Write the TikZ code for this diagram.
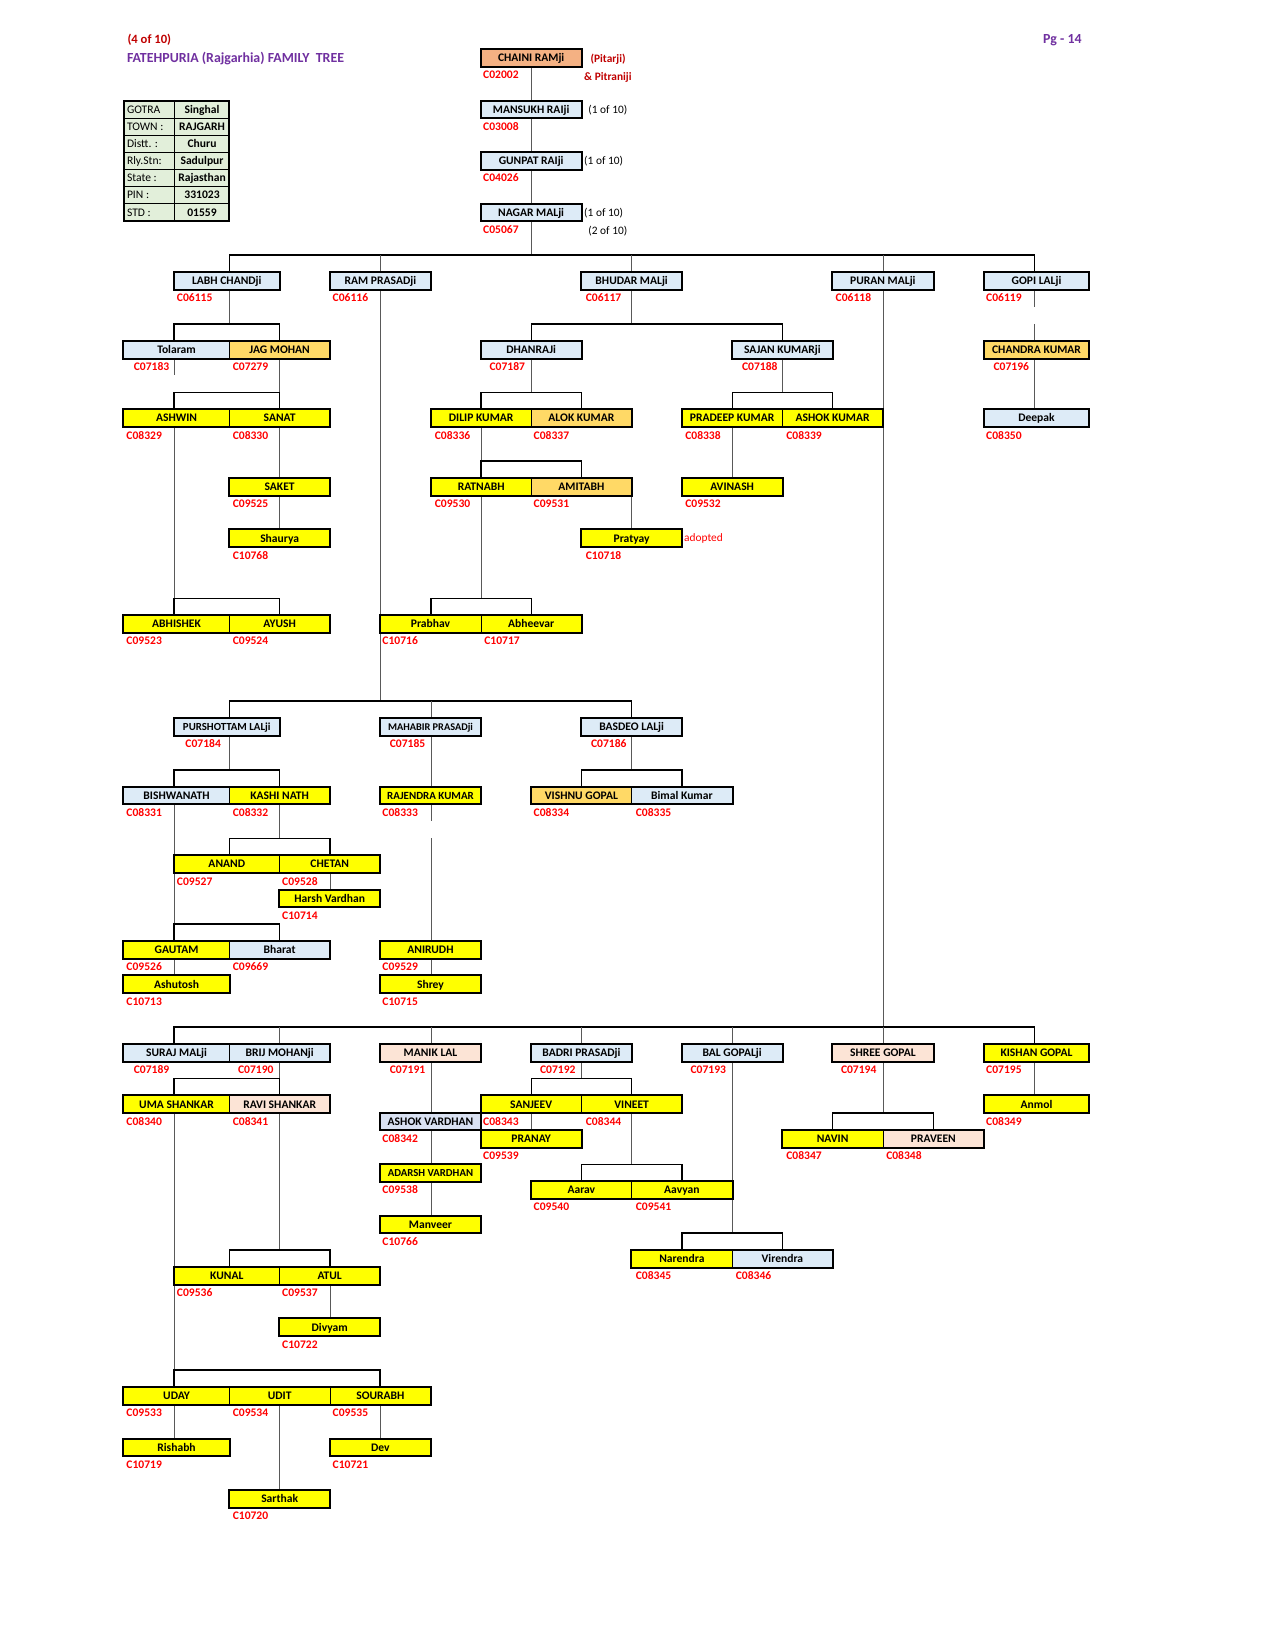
\documentclass[tikz,border=0pt]{standalone}
\usepackage{fontspec}
\setmainfont{Carlito}
\usetikzlibrary{calc}
\definecolor{cblue}{HTML}{DDEBF7}
\definecolor{cyel}{HTML}{FFFF00}
\definecolor{cgold}{HTML}{FFD966}
\definecolor{csalmon}{HTML}{F4B183}
\definecolor{cpeach}{HTML}{FCE4D6}
\definecolor{cav}{HTML}{D9E1F2}
\definecolor{cgreen}{HTML}{E2EFDA}
\definecolor{cred}{HTML}{FF0000}
\definecolor{cdred}{HTML}{C00000}
\definecolor{cpurple}{HTML}{7030A0}
\def\setcol#1#2{\expandafter\def\csname cx#1\endcsname{#2}}
\setcol{0}{117.5}\setcol{1}{165.5}\setcol{2}{218}\setcol{3}{265.5}\setcol{4}{313.5}
\setcol{5}{361.2}\setcol{6}{409.5}\setcol{7}{457}\setcol{8}{505}\setcol{9}{552.5}
\setcol{10}{600}\setcol{11}{648}\setcol{12}{696}\setcol{13}{743.5}\setcol{14}{791}
\setcol{15}{839}\setcol{16}{887}\setcol{17}{935}\setcol{18}{983}\setcol{19}{1035}
\tikzset{
  pers/.style={rectangle, draw=black, line width=0.6pt, inner sep=0pt,
    minimum height=16.3pt, text height=7.1pt, text depth=0pt,
    font=\bfseries\fontsize{11}{12}\selectfont},
  code/.style={inner sep=0pt, anchor=west, text=cred, text height=7.1pt, text depth=0pt,
    font=\bfseries\fontsize{11}{12}\selectfont},
  thn/.style={line width=0.7pt, draw=black!65},
  thk/.style={line width=1.6pt, draw=black},
  boxline/.style={line width=1.9pt, draw=black},
  note/.style={inner sep=0pt, anchor=west, text height=7pt, text depth=0pt,
    font=\fontsize{10.8}{12}\selectfont},
  redb/.style={note, text=cdred, font=\bfseries\fontsize{10.8}{12}\selectfont},
  redr/.style={note, text=cred},
  ttl/.style={note, text=cpurple, text height=8.4pt, font=\bfseries\fontsize{13.2}{15}\selectfont},
  hred/.style={note, text=cdred, text height=7.7pt, font=\bfseries\fontsize{12}{14}\selectfont},
  tlab/.style={note, font=\fontsize{11}{12}\selectfont},
  tval/.style={inner sep=0pt, text height=7.1pt, text depth=0pt, font=\bfseries\fontsize{11}{12}\selectfont},
}
\newcommand\pbox[9][]{%
  \edef\pbXL{\csname cx#3\endcsname}%
  \edef\pbXR{\csname cx#4\endcsname}%
  \pgfmathsetmacro\pbXC{(\pbXL+\pbXR)/2}%
  \pgfmathsetmacro\pbW{\pbXR-\pbXL}%
  \pgfmathsetmacro\pbYC{47+16.3*#5+8.15}%
  \pgfmathsetmacro\pbYD{47+16.3*#5+24.45}%
  \pgfmathsetmacro\pbXD{\pbXL+#9}%
  \node[pers, fill=#6, minimum width=\pbW pt, #1] (#2) at (\pbXC,\pbYC) {#7};
  \node[code] (#2-c) at (\pbXD,\pbYD) {#8};
}
\begin{document}
\begin{tikzpicture}[x=1pt,y=-1pt]
\useasboundingbox (0,0) rectangle (1212,1568);
\fill[white] (0,0) rectangle (1212,1568);
\foreach \i in {0,...,19} { \coordinate (c\i) at (\csname cx\i\endcsname,0); }
\foreach \k in {0,...,86} { \coordinate (r\k) at (0,{47+16.3*\k}); }

% header
\node[hred] (pg4) at (121,37.5) {(4 of 10)};
\node[ttl] (title) at (120.5,55.5) {FATEHPURIA (Rajgarhia) FAMILY\ \ TREE};
\node[ttl] (pg) at (991,37.5) {Pg - 14};

% info table
\fill[cgreen] (c0 |- r3) rectangle (c2 |- r10);
\foreach \k in {4,...,9} { \draw[line width=0.8pt] (c0 |- r\k) -- (c2 |- r\k); }
\draw[line width=0.8pt] (c1 |- r3) -- (c1 |- r10);
\draw[boxline] (c0 |- r3) rectangle (c2 |- r10);
\foreach \k/\l/\v [count=\i] in {3/GOTRA/Singhal, 4/TOWN :/RAJGARH, 5/Distt. :/Churu,
   6/Rly.Stn:/Sadulpur, 7/State :/Rajasthan, 8/PIN :/331023, 9/STD :/01559} {
  \node[tlab] (tl\i) at (120.5,{47+16.3*\k+8.15}) {\l};
  \node[tval] (tv\i) at (192,{47+16.3*\k+8.15}) {\v};
}

% persons
\pbox{chaini}{7}{9}{0}{csalmon}{CHAINI RAMji}{C02002}{2}
\pbox{mansukh}{7}{9}{3}{cblue}{MANSUKH RAIji}{C03008}{2}
\pbox{gunpat}{7}{9}{6}{cblue}{GUNPAT RAIji}{C04026}{2}
\pbox{nagar}{7}{9}{9}{cblue}{NAGAR MALji}{C05067}{2}

\pbox{labh}{1}{3}{13}{cblue}{LABH CHANDji}{C06115}{2.5}
\pbox{ram}{4}{6}{13}{cblue}{RAM PRASADji}{C06116}{2.5}
\pbox{bhudar}{9}{11}{13}{cblue}{BHUDAR MALji}{C06117}{4}
\pbox{puran}{14}{16}{13}{cblue}{PURAN MALji}{C06118}{3}
\pbox{gopi}{17}{19}{13}{cblue}{GOPI LALji}{C06119}{2}

\pbox{tolaram}{0}{2}{17}{cblue}{Tolaram}{C07183}{9.5}
\pbox{jag}{2}{4}{17}{cgold}{JAG MOHAN}{C07279}{3}
\pbox{dhanraj}{7}{9}{17}{cblue}{DHANRAJi}{C07187}{8}
\pbox{sajan}{12}{14}{17}{cblue}{SAJAN KUMARji}{C07188}{9}
\pbox{chandra}{17}{19}{17}{cgold}{CHANDRA KUMAR}{C07196}{9}

\pbox{ashwin}{0}{2}{21}{cyel}{ASHWIN}{C08329}{2.5}
\pbox{sanat}{2}{4}{21}{cyel}{SANAT}{C08330}{3}
\pbox{dilip}{6}{8}{21}{cyel}{DILIP KUMAR}{C08336}{3.5}
\pbox{alok}{8}{10}{21}{cgold}{ALOK KUMAR}{C08337}{2}
\pbox{pradeep}{11}{13}{21}{cyel}{PRADEEP KUMAR}{C08338}{3}
\pbox{ashokk}{13}{15}{21}{cyel}{ASHOK KUMAR}{C08339}{3.5}
\pbox{deepak}{17}{19}{21}{cblue}{Deepak}{C08350}{2}

\pbox{saket}{2}{4}{25}{cyel}{SAKET}{C09525}{3}
\pbox{ratnabh}{6}{8}{25}{cyel}{RATNABH}{C09530}{3.5}
\pbox{amitabh}{8}{10}{25}{cgold}{AMITABH}{C09531}{2}
\pbox{avinash}{11}{13}{25}{cyel}{AVINASH}{C09532}{3}

\pbox{shaurya}{2}{4}{28}{cyel}{Shaurya}{C10768}{3}
\pbox{pratyay}{9}{11}{28}{cyel}{Pratyay}{C10718}{4}

\pbox{abhishek}{0}{2}{33}{cyel}{ABHISHEK}{C09523}{2.5}
\pbox{ayush}{2}{4}{33}{cyel}{AYUSH}{C09524}{3}
\pbox{prabhav}{5}{7}{33}{cyel}{Prabhav}{C10716}{2}
\pbox{abheevar}{7}{9}{33}{cyel}{Abheevar}{C10717}{3}

\pbox[font=\bfseries\fontsize{10.3}{12}\selectfont]{purshottam}{1}{3}{39}{cblue}{PURSHOTTAM LALji}{C07184}{10.5}
\pbox[font=\bfseries\fontsize{9.8}{12}\selectfont]{mahabir}{5}{7}{39}{cblue}{MAHABIR PRASADji}{C07185}{9}
\pbox{basdeo}{9}{11}{39}{cblue}{BASDEO LALji}{C07186}{9}

\pbox{bishwanath}{0}{2}{43}{cblue}{BISHWANATH}{C08331}{2.5}
\pbox{kashi}{2}{4}{43}{cyel}{KASHI NATH}{C08332}{3}
\pbox[font=\bfseries\fontsize{10.4}{12}\selectfont]{rajendra}{5}{7}{43}{cyel}{RAJENDRA KUMAR}{C08333}{2}
\pbox{vishnu}{8}{10}{43}{cgold}{VISHNU GOPAL}{C08334}{2}
\pbox{bimal}{10}{12}{43}{cblue}{Bimal Kumar}{C08335}{4}

\pbox{anand}{1}{3}{47}{cyel}{ANAND}{C09527}{2.5}
\pbox{chetan}{3}{5}{47}{cyel}{CHETAN}{C09528}{2.5}
\pbox{harsh}{3}{5}{49}{cyel}{Harsh Vardhan}{C10714}{2.5}

\pbox{gautam}{0}{2}{52}{cyel}{GAUTAM}{C09526}{2.5}
\pbox{bharat}{2}{4}{52}{cblue}{Bharat}{C09669}{3}
\pbox{anirudh}{5}{7}{52}{cyel}{ANIRUDH}{C09529}{2}
\pbox{ashutosh}{0}{2}{54}{cyel}{Ashutosh}{C10713}{2.5}
\pbox{shrey}{5}{7}{54}{cyel}{Shrey}{C10715}{2}

\pbox{suraj}{0}{2}{58}{cblue}{SURAJ MALji}{C07189}{9.5}
\pbox{brij}{2}{4}{58}{cblue}{BRIJ MOHANji}{C07190}{8}
\pbox{manik}{5}{7}{58}{cpeach}{MANIK LAL}{C07191}{9}
\pbox{badri}{8}{10}{58}{cblue}{BADRI PRASADji}{C07192}{8}
\pbox{bal}{11}{13}{58}{cblue}{BAL GOPALji}{C07193}{8}
\pbox{shree}{14}{16}{58}{cpeach}{SHREE GOPAL}{C07194}{8}
\pbox{kishan}{17}{19}{58}{cyel}{KISHAN GOPAL}{C07195}{2}

\pbox{uma}{0}{2}{61}{cyel}{UMA SHANKAR}{C08340}{2.5}
\pbox{ravi}{2}{4}{61}{cpeach}{RAVI SHANKAR}{C08341}{3}
\pbox{sanjeev}{7}{9}{61}{cyel}{SANJEEV}{C08343}{2}
\pbox{vineet}{9}{11}{61}{cyel}{VINEET}{C08344}{4}
\pbox{anmol}{17}{19}{61}{cyel}{Anmol}{C08349}{2}
\pbox{ashokv}{5}{7}{62}{cav}{ASHOK VARDHAN}{C08342}{2}
\pbox{pranay}{7}{9}{63}{cyel}{PRANAY}{C09539}{2}
\pbox{navin}{13}{15}{63}{cyel}{NAVIN}{C08347}{3.5}
\pbox{praveen}{15}{17}{63}{cpeach}{PRAVEEN}{C08348}{3}
\pbox[font=\bfseries\fontsize{10.2}{12}\selectfont]{adarsh}{5}{7}{65}{cyel}{ADARSH VARDHAN}{C09538}{2}
\pbox{aarav}{8}{10}{66}{cyel}{Aarav}{C09540}{2}
\pbox{aavyan}{10}{12}{66}{cyel}{Aavyan}{C09541}{4}
\pbox{manveer}{5}{7}{68}{cyel}{Manveer}{C10766}{2}
\pbox{narendra}{10}{12}{70}{cyel}{Narendra}{C08345}{4}
\pbox{virendra}{12}{14}{70}{cblue}{Virendra}{C08346}{3}
\pbox{kunal}{1}{3}{71}{cyel}{KUNAL}{C09536}{2.5}
\pbox{atul}{3}{5}{71}{cyel}{ATUL}{C09537}{2.5}
\pbox{divyam}{3}{5}{74}{cyel}{Divyam}{C10722}{2.5}
\pbox{uday}{0}{2}{78}{cyel}{UDAY}{C09533}{2.5}
\pbox{udit}{2}{4}{78}{cyel}{UDIT}{C09534}{3}
\pbox{sourabh}{4}{6}{78}{cyel}{SOURABH}{C09535}{2.5}
\pbox{rishabh}{0}{2}{81}{cyel}{Rishabh}{C10719}{2.5}
\pbox{dev}{4}{6}{81}{cyel}{Dev}{C10721}{2.5}
\pbox{sarthak}{2}{4}{84}{cyel}{Sarthak}{C10720}{3}

% side notes
\node[redb] (pitarji) at (561,56) {(Pitarji)};
\node[redb] (pitraniji) at (555,73) {\& Pitraniji};
\node[note] (n1) at (559,104) {(1 of 10)};
\node[note] (n2) at (555,153) {(1 of 10)};
\node[note] (n3) at (555,202) {(1 of 10)};
\node[note] (n4) at (559,219) {(2 of 10)};
\node[redr] (adopted) at (650,511) {adopted};

% connectors: top chain
\draw[thn] (chaini.south -| c8) -- (mansukh.north -| c8);
\draw[thn] (mansukh.south -| c8) -- (gunpat.north -| c8);
\draw[thn] (gunpat.south -| c8) -- (nagar.north -| c8);
\draw[thn] (nagar.south -| c8) -- (c8 |- r12);
\draw[thk] (labh.north -| c2) |- (r12 -| c18) -- (gopi.north -| c18);
\draw[thn] (ram.north -| c5) -- (c5 |- r12);
\draw[thn] (bhudar.north -| c10) -- (c10 |- r12);
\draw[thn] (puran.north -| c15) -- (c15 |- r12);

% LABH branch
\draw[thn] (labh.south -| c2) -- (c2 |- r16);
\draw[thk] (tolaram.north -| c1) |- (r16 -| c3) -- (jag.north -| c3);
\draw[thn] (tolaram.south -| c1) -- (c1 |- r19);
\draw[thn] (jag.south -| c3) -- (c3 |- r20);
\draw[thk] (ashwin.north -| c1) |- (r20 -| c3) -- (sanat.north -| c3);
\draw[thn] (ashwin.south -| c1) -- (c1 |- r32);
\draw[thk] (abhishek.north -| c1) |- (r32 -| c3) -- (ayush.north -| c3);
\draw[thn] (sanat.south -| c3) -- (saket.north -| c3);
\draw[thn] (saket.south -| c3) -- (shaurya.north -| c3);

% BHUDAR branch
\draw[thn] (bhudar.south -| c10) -- (c10 |- r16);
\draw[thk] (dhanraj.north -| c8) |- (r16 -| c13) -- (sajan.north -| c13);
\draw[thn] (dhanraj.south -| c8) -- (c8 |- r20);
\draw[thk] (dilip.north -| c7) |- (r20 -| c9) -- (alok.north -| c9);
\draw[thn] (sajan.south -| c13) -- (c13 |- r20);
\draw[thk] (pradeep.north -| c12) |- (r20 -| c14) -- (ashokk.north -| c14);
\draw[thn] (dilip.south -| c7) -- (c7 |- r24);
\draw[thk] (ratnabh.north -| c7) |- (r24 -| c9) -- (amitabh.north -| c9);
\draw[thn] (ratnabh.south -| c7) -- (c7 |- r32);
\draw[thk] (prabhav.north -| c6) |- (r32 -| c8) -- (abheevar.north -| c8);
\draw[thn] (amitabh.south -| c10) -- (pratyay.north -| c10);
\draw[thn] (pradeep.south -| c12) -- (avinash.north -| c12);

% GOPI branch
\draw[thn] (gopi.south -| c18) -- (c18 |- r15);
\draw[thn] (c18 |- r16) -- (chandra.north -| c18);
\draw[thn] (chandra.south -| c18) -- (deepak.north -| c18);

% RAM branch
\draw[thn] (ram.south -| c5) -- (c5 |- r38);
\draw[thk] (purshottam.north -| c2) |- (r38 -| c10) -- (basdeo.north -| c10);
\draw[thn] (mahabir.north -| c6) -- (c6 |- r38);
\draw[thn] (purshottam.south -| c2) -- (c2 |- r42);
\draw[thk] (bishwanath.north -| c1) |- (r42 -| c3) -- (kashi.north -| c3);
\draw[thn] (mahabir.south -| c6) -- (rajendra.north -| c6);
\draw[thn] (rajendra.south -| c6) -- (c6 |- r45);
\draw[thn] (c6 |- r46) -- (anirudh.north -| c6);
\draw[thn] (basdeo.south -| c10) -- (c10 |- r42);
\draw[thk] (vishnu.north -| c9) |- (r42 -| c11) -- (bimal.north -| c11);
\draw[thn] (kashi.south -| c3) -- (c3 |- r46);
\draw[thk] (anand.north -| c2) |- (r46 -| c4) -- (chetan.north -| c4);
\draw[thn] (chetan.south -| c4) -- (harsh.north -| c4);
\draw[thn] (bishwanath.south -| c1) -- (c1 |- r51);
\draw[thk] (gautam.north -| c1) |- (r51 -| c3) -- (bharat.north -| c3);
\draw[thn] (gautam.south -| c1) -- (ashutosh.north -| c1);
\draw[thn] (anirudh.south -| c6) -- (shrey.north -| c6);

% PURAN branch
\draw[thn] (puran.south -| c15) -- (c15 |- r57);
\draw[thk] (suraj.north -| c1) |- (r57 -| c18) -- (kishan.north -| c18);
\draw[thn] (brij.north -| c3) -- (c3 |- r57);
\draw[thn] (manik.north -| c6) -- (c6 |- r57);
\draw[thn] (badri.north -| c9) -- (c9 |- r57);
\draw[thn] (bal.north -| c12) -- (c12 |- r57);
\draw[thn] (shree.north -| c15) -- (c15 |- r57);
\draw[thn] (brij.south -| c3) -- (c3 |- r60);
\draw[thk] (uma.north -| c1) |- (r60 -| c3) -- (ravi.north -| c3);
\draw[thn] (uma.south -| c1) -- (c1 |- r77);
\draw[thk] (uday.north -| c1) |- (r77 -| c5) -- (sourabh.north -| c5);
\draw[thn] (ravi.south -| c3) -- (c3 |- r70);
\draw[thk] (kunal.north -| c2) |- (r70 -| c4) -- (atul.north -| c4);
\draw[thn] (atul.south -| c4) -- (divyam.north -| c4);
\draw[thn] (uday.south -| c1) -- (rishabh.north -| c1);
\draw[thn] (udit.south -| c3) -- (sarthak.north -| c3);
\draw[thn] (sourabh.south -| c5) -- (dev.north -| c5);
\draw[thn] (manik.south -| c6) -- (ashokv.north -| c6);
\draw[thn] (ashokv.south -| c6) -- (adarsh.north -| c6);
\draw[thn] (adarsh.south -| c6) -- (manveer.north -| c6);
\draw[thn] (badri.south -| c9) -- (c9 |- r60);
\draw[thk] (sanjeev.north -| c8) |- (r60 -| c10) -- (vineet.north -| c10);
\draw[thn] (sanjeev.south -| c8) -- (pranay.north -| c8);
\draw[thn] (vineet.south -| c10) -- (c10 |- r65);
\draw[thk] (aarav.north -| c9) |- (r65 -| c11) -- (aavyan.north -| c11);
\draw[thn] (bal.south -| c12) -- (c12 |- r69);
\draw[thk] (narendra.north -| c11) |- (r69 -| c13) -- (virendra.north -| c13);
\draw[thn] (shree.south -| c15) -- (c15 |- r62);
\draw[thk] (navin.north -| c14) |- (r62 -| c16) -- (praveen.north -| c16);
\draw[thn] (kishan.south -| c18) -- (anmol.north -| c18);

% thick outlines of boxes and box groups
\foreach \a/\b in {chaini/chaini, mansukh/mansukh, gunpat/gunpat, nagar/nagar,
  labh/labh, ram/ram, bhudar/bhudar, puran/puran, gopi/gopi,
  tolaram/jag, dhanraj/dhanraj, sajan/sajan, chandra/chandra,
  ashwin/sanat, dilip/alok, pradeep/ashokk, deepak/deepak,
  saket/saket, ratnabh/amitabh, avinash/avinash, shaurya/shaurya, pratyay/pratyay,
  abhishek/ayush, prabhav/abheevar,
  purshottam/purshottam, mahabir/mahabir, basdeo/basdeo,
  bishwanath/kashi, rajendra/rajendra, vishnu/bimal,
  anand/chetan, harsh/harsh, gautam/bharat, anirudh/anirudh, ashutosh/ashutosh, shrey/shrey,
  suraj/brij, manik/manik, badri/badri, bal/bal, shree/shree, kishan/kishan,
  uma/ravi, sanjeev/vineet, anmol/anmol, ashokv/ashokv, pranay/pranay, navin/praveen,
  adarsh/adarsh, aarav/aavyan, manveer/manveer, narendra/virendra, kunal/atul,
  divyam/divyam, uday/sourabh, rishabh/rishabh, dev/dev, sarthak/sarthak} {
  \draw[boxline] (\a.north west) rectangle (\b.south east);
}
\end{tikzpicture}
\end{document}
